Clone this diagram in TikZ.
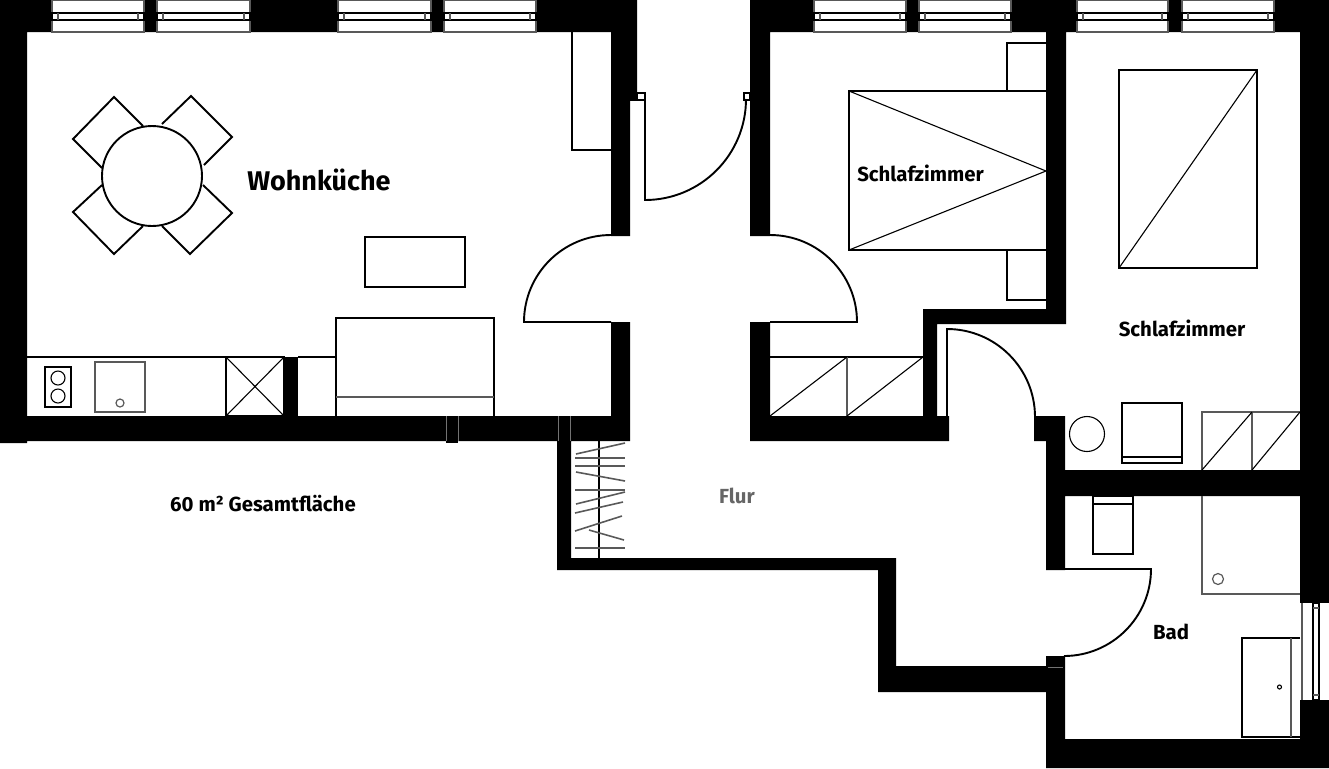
\documentclass[tikz,border=0pt]{standalone}
\usepackage{fontspec}
\setmainfont{Fira Sans}
\tikzset{wall/.style={fill=black},
thin line/.style={draw=black, line width=0.55pt},
gray line/.style={draw=black!65, line width=0.6pt},
joint line/.style={draw=black!55, line width=0.3pt},
door/.style={draw=black, line width=0.95pt},
label/.style={font=\fontsize{#1}{#1}\selectfont\bfseries, inner sep=0pt},
label/.default={10.2}}

\begin{document}
\begin{tikzpicture}[x=0.5pt,y=-0.5pt]
\useasboundingbox (0,0) rectangle (1329,768);
% outer and inner walls
\fill[wall] (0,0) -- (637,0) -- (637,100) -- (630,100) -- (630,236) -- (611,236) -- (611,32) -- (27,32) -- (27,416) -- (611,416) -- (611,322) -- (630,322) -- (630,441) -- (571,441) -- (571,558) -- (878,558) -- (896,558) -- (896,666) -- (1046,666) -- (1046,656) -- (1065,656) -- (1065,739) -- (1300,739) -- (1300,700) -- (1329,700) -- (1329,768) -- (1046,768) -- (1046,692) -- (878,692) -- (878,570) -- (557,570) -- (557,441) -- (27,441) -- (27,443) -- (0,443) -- cycle;
\fill[wall] (750,0) -- (1329,0) -- (1329,603) -- (1300,603) -- (1300,32) -- (1066,32) -- (1066,324) -- (937,324) -- (937,416) -- (949,416) -- (949,441) -- (750,441) -- (750,322) -- (770,322) -- (770,416) -- (923,416) -- (923,309) -- (1046,309) -- (1046,32) -- (770,32) -- (770,236) -- (750,236) -- cycle;
\fill[wall] (1034,416) -- (1065,416) -- (1065,470) -- (1300,470) -- (1300,496) -- (1065,496) -- (1065,570) -- (1046,570) -- (1046,441) -- (1034,441) -- cycle;
\fill[wall] (284,357) rectangle (298,416);
\fill[wall] (446,441) rectangle (458,443);

% windows
\foreach \xa/\xb in {52/144,157/250,338/431,444/536,814/906,919/1011,1077/1168,1182/1274} {
     \draw[gray line,fill=white] (\xa,0) rectangle (\xb,32);
     \draw[thin line] (\xa,13) rectangle (\xb,20);
     \draw[gray line] ({\xa+6},13) -- ({\xa+6},20);
     \draw[gray line] ({\xb-6},13) -- ({\xb-6},20);
}
\fill[white] (1300,603) rectangle (1329,700);
\draw[gray line] (1302,603) -- (1302,700);
\draw[thin line] (1313,603) rectangle (1319,700);
\draw[gray line] (1313,608) -- (1319,608);
\draw[gray line] (1313,695) -- (1319,695);

% joints in the walls
\draw[joint line] (446,416) -- (446,441);
\draw[joint line] (458,416) -- (458,441);
\draw[joint line] (558,416) -- (558,441);
\draw[joint line] (570,416) -- (570,441);
\draw[joint line] (1048,667) -- (1063,667);

% doors
\draw[thin line] (630,100) -- (645,100);
\draw[thin line] (637,93) rectangle (645,100);
\draw[thin line] (744,93) rectangle (750,100);
\draw[door] (645,100) -- (645,200) arc[start angle=90,end angle=0,radius=101];
\draw[door] (611,322) -- (524,322) arc[start angle=180,end angle=270,radius=87];
\draw[door] (770,322) -- (857,322) arc[start angle=0,end angle=-90,radius=87];
\draw[door] (947,416) -- (947,329) arc[start angle=270,end angle=360,radius=88];
\draw[door] (1065,569) -- (1151,569) arc[start angle=0,end angle=90,radius=87];

% table and chairs
\draw[door] (152,176) circle[radius=50];
\draw[door] (143,126) -- (114,97) -- (73,139) -- (102,168);
\draw[door] (162,124) -- (191,96) -- (232,137) -- (204,165);
\draw[door] (102,185) -- (73,212) -- (114,254) -- (143,226);
\draw[door] (203,185) -- (232,213) -- (190,254) -- (162,226);

% kitchen
\draw[thin line] (572,32) -- (572,150) -- (611,150);
\draw[thin line] (365,237) rectangle (465,287);
\draw[thin line] (27,357) -- (284,357);
\draw[thin line] (298,357) -- (336,357);
\draw[thin line] (336,416) -- (336,318) -- (494,318) -- (494,416);
\draw[gray line] (336,397) -- (494,397);
\draw[thin line] (45,367) rectangle (71,407);
\draw[thin line] (58,378) circle[radius=7];
\draw[thin line] (58,396) circle[radius=7];
\draw[gray line,line width=0.8pt] (95,362) rectangle (145,412);
\draw[gray line] (120,403) circle[radius=4];
\draw[thin line] (226,357) rectangle (284,416);
\draw[thin line] (226,357) -- (284,416);
\draw[thin line] (226,416) -- (284,357);

% wardrobe in the hall
\draw[thin line] (599,441) -- (599,558);
\foreach \y in {458,466,490,548}
     \draw[gray line,line width=0.8pt] (575,\y) -- (625,\y);
\draw[gray line,line width=0.8pt] (576,454) -- (625,443);
\draw[gray line,line width=0.8pt] (576,472) -- (625,481);
\draw[gray line,line width=0.8pt] (576,504) -- (625,492);
\draw[gray line,line width=0.8pt] (575,513) -- (623,502);
\draw[gray line,line width=0.8pt] (575,531) -- (622,516);
\draw[gray line,line width=0.8pt] (589,530) -- (624,540);

% first bedroom
\draw[thin line] (1046,91) -- (849,91) -- (849,250) -- (1046,250);
\draw[thin line] (849,91) -- (1046,171) -- (849,250);
\draw[thin line] (1046,43) -- (1007,43) -- (1007,91);
\draw[thin line] (1007,250) -- (1007,300) -- (1046,300);
\draw[thin line] (770,357) -- (923,357);
\draw[gray line] (847,357) -- (847,416);
\draw[thin line] (770,416) -- (847,357);
\draw[thin line] (847,416) -- (923,357);

% second bedroom
\draw[thin line] (1119,70) rectangle (1257,268);
\draw[thin line] (1119,268) -- (1257,70);
\draw[thin line] (1087,434) circle[radius=17.5];
\draw[thin line] (1122,403) rectangle (1182,463);
\draw[thin line] (1122,457) -- (1182,457);
\draw[gray line] (1300,412) -- (1202,412) -- (1202,470);
\draw[gray line] (1252,412) -- (1252,470);
\draw[thin line] (1202,470) -- (1252,412);
\draw[thin line] (1252,470) -- (1300,412);

% bathroom
\draw[thin line] (1093,496) rectangle (1133,554);
\draw[thin line] (1093,504) -- (1133,504);
\draw[gray line] (1202,496) -- (1202,594) -- (1300,594);
\draw[gray line] (1218,579) circle[radius=5.5];
\draw[thin line] (1300,638) -- (1242,638) -- (1242,737) -- (1300,737);
\draw[gray line] (1291,638) -- (1291,737);
\draw[thin line] (1279.5,687) circle[radius=2];

%labels
\node[label=13.5] (wohnkueche) at (319,180) {Wohnküche};
\node[label] (schlafeins) at (920.5,173) {Schlafzimmer};
\node[label] (schlafzwei) at (1182,328) {Schlafzimmer};
\node[label] (bad) at (1171,632) {Bad};
\node[label,text=black!60] (flur) at (737,496) {Flur};
\node[label] (flaeche) at (263,504) {60 m² Gesamtfläche};

\end{tikzpicture}
\end{document}
